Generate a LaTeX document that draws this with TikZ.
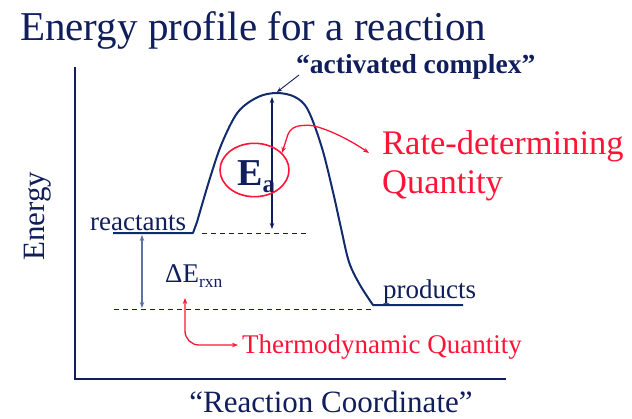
\documentclass[tikz,border=0pt]{standalone}
\usepackage{fontspec}
\setmainfont{Liberation Serif}
\usetikzlibrary{arrows.meta}
\definecolor{navy}{RGB}{16,30,92}
\definecolor{curvec}{RGB}{18,42,110}
\definecolor{slate}{RGB}{95,115,160}
\definecolor{hotred}{RGB}{255,20,55}
\begin{document}
\begin{tikzpicture}[x=1pt,y=-1pt,
  lbl/.style={inner sep=0pt, anchor=base west, text=navy},
  redlbl/.style={inner sep=0pt, anchor=base west, text=hotred},
  axis/.style={draw=navy, line width=2pt},
  level/.style={draw=curvec, line width=2pt, line join=round},
  guide/.style={draw=navy, line width=0.8pt, dash pattern=on 5pt off 4pt},
  dimarrow/.style={draw=navy, line width=1.3pt, {Stealth[length=6pt,width=4.5pt]}-{Stealth[length=6pt,width=4.5pt]}},
  redarrow/.style={draw=hotred, line width=1.3pt, {Stealth[length=6pt,width=4.5pt]}-{Stealth[length=6pt,width=4.5pt]}}
]
\useasboundingbox (0,0) rectangle (632,418);

% texts
\node[lbl] (title) at (20,40) {\fontsize{41}{49}\selectfont Energy profile for a reaction};
\node[inner sep=0pt, text=navy, rotate=90] (energy) at (38,216) {\fontsize{31}{37}\selectfont Energy};
\node[inner sep=0pt, anchor=base, text=navy] (rc) at (331,412) {\fontsize{31}{37}\selectfont “Reaction Coordinate”};
\node[lbl] (reactants) at (90,230) {\fontsize{27}{32}\selectfont reactants};
\node[lbl] (products) at (383,298) {\fontsize{27}{32}\selectfont products};
\node[lbl] (dE) at (165,282) {\fontsize{27}{32}\selectfont ΔE\raisebox{-5pt}{\fontsize{17.5}{20}\selectfont rxn}};
\node[lbl] (Ea) at (237,185) {\bfseries\fontsize{38}{44}\selectfont E\raisebox{-7pt}{\fontsize{25}{30}\selectfont a}};
\node[lbl] (ac) at (296,73) {\bfseries\fontsize{27.5}{33}\selectfont “activated complex”};
\node[redlbl] (rate) at (382,154) {\fontsize{34.5}{41}\selectfont Rate-determining};
\node[redlbl] (quant) at (382,193) {\fontsize{34.5}{41}\selectfont Quantity};
\node[redlbl] (thermo) at (242,353) {\fontsize{27}{32}\selectfont Thermodynamic Quantity};

% axes
\coordinate (ytop) at (75,67);
\coordinate (orig) at (75,379);
\coordinate (xend) at (506,379);
\draw[axis] (ytop) -- (orig) -- (xend);

% energy curve
\coordinate (r0) at (113,233);
\coordinate (r1) at (193,233);
\coordinate (p0) at (373,305);
\coordinate (p1) at (463,305);
\draw[level] (r0) -- (r1) -- (197,222)
  plot[smooth, tension=0.55] coordinates {(197,222) (210,178) (222,143) (238,112) (258,97) (277,93) (295,97) (308,110) (322,148) (333,192) (341,228) (349,262) (360,285) (373,305)}
  -- (p1);

% guide lines
\coordinate (g1a) at (202,233);
\coordinate (g1b) at (307,233);
\coordinate (g2a) at (114,309);
\coordinate (g2b) at (372,309);
\draw[guide] (g1a) -- (g1b);
\draw[guide] (g2a) -- (g2b);

% Ea arrow
\coordinate (eatop) at (272,97);
\coordinate (eabot) at (272,229);
\draw[dimarrow] (eatop) -- (eabot);

% Delta E arrow
\coordinate (detop) at (142,235);
\coordinate (debot) at (142,308);
\draw[dimarrow, draw=slate] (detop) -- (debot);

% activated complex pointer
\coordinate (acs) at (299,75);
\coordinate (ace) at (277,92);
\draw[draw=navy, line width=0.9pt, -{Stealth[length=5pt,width=4pt]}] (acs) -- (ace);

% Ea circle
\coordinate (ec) at (254.5,170);
\draw[hotred, line width=1.6pt] (ec) ellipse [x radius=34.5pt, y radius=26.7pt];

% red arrows
\coordinate (ra) at (282,153);
\coordinate (rb) at (369,153);
\draw[redarrow, rounded corners=4pt] (ra) -- (289,131) -- (296,126) -- (310,125) .. controls (330,130) and (350,140) .. (rb);
\coordinate (ta) at (185,298);
\coordinate (tb) at (238,345);
\draw[redarrow, rounded corners=14pt] (ta) |- (tb);
\end{tikzpicture}
\end{document}
